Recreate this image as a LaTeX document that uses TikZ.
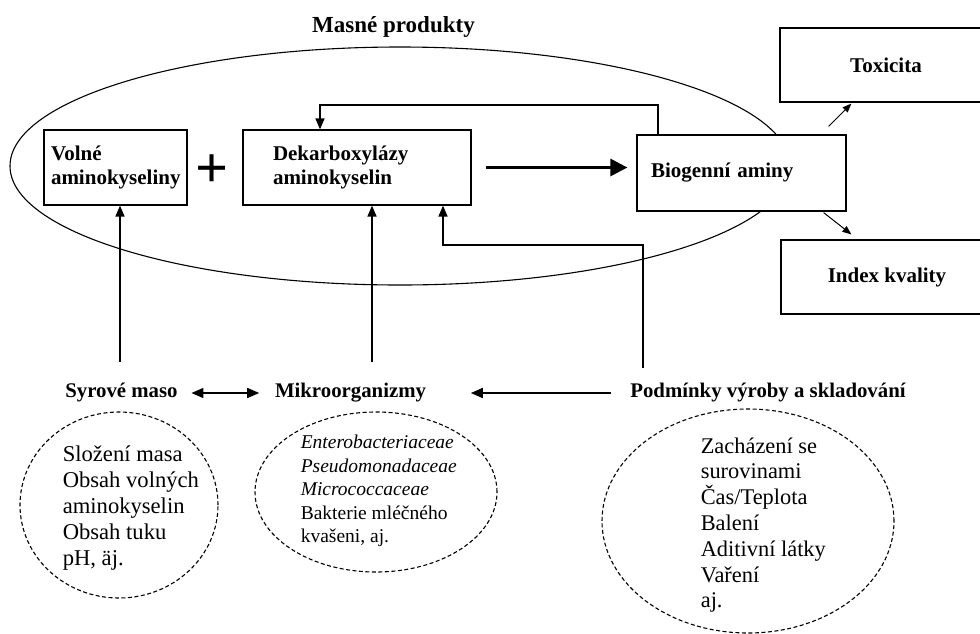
\documentclass[tikz,border=0pt]{standalone}
\usepackage{fontspec}
\setmainfont{Liberation Serif}
\usetikzlibrary{arrows.meta,shapes.geometric}

\begin{document}
\begin{tikzpicture}
	[x=1pt,y=-1pt,>={Triangle[length=11pt,width=9pt]},line width=1.6pt,
		box node/.style={rectangle,draw,line width=1.2pt,fill=white,minimum height=75pt,font=\bfseries\fontsize{21}{23.5}\selectfont},
		oval node/.style={ellipse,draw,dash pattern=on 4pt off 2.5pt,line width=1.1pt,inner sep=0pt,outer sep=0pt},
		head node/.style={font=\bfseries\fontsize{20.8}{24}\selectfont,inner sep=3pt},
		list node/.style={align=left,anchor=west,inner sep=0pt,font=\fontsize{22.6}{25.8}\selectfont}]

	\useasboundingbox (0,0) rectangle (980,633);
	\clip (0,0) rectangle (980,633);

	% meat products oval, boxes go on top of it
	\node[ellipse,draw,line width=1.1pt,inner sep=0pt,outer sep=0pt,minimum width=780pt,minimum height=238pt] (meat) at (400,166) {};
	\node[font=\bfseries\fontsize{23}{26}\selectfont] (title) at (393.5,27) {Masné produkty};

	\node[box node,minimum width=143pt,text width=129pt,inner xsep=7pt,align=left] (vol) at (115.5,167.5) {Volné\\aminokyseliny};
	\node[font=\bfseries\fontsize{58}{58}\selectfont,inner sep=0pt] (plus) at (212,171) {+};
	\node[box node,minimum width=228pt,text width=168pt,inner xsep=30pt,align=left] (dek) at (357,167.5) {Dekarboxylázy\\aminokyselin};
	\node[box node,minimum width=209pt,minimum height=76pt,text width=181pt,inner xsep=14pt,align=left] (bio) at (741.5,173) {Biogenní aminy};
	\node[box node,minimum width=212pt,minimum height=74pt] (tox) at (886,65) {Toxicita};
	\node[box node,minimum width=212pt,minimum height=74pt] (idx) at (887,277) {Index kvality};

	% factors
	\node[head node] (raw) at (121.5,393) {Syrové maso};
	\node[head node] (mik) at (350.5,393) {Mikroorganizmy};
	\node[head node] (pod) at (768,393) {Podmínky výroby a skladování};

	\node[oval node,minimum width=198pt,minimum height=186pt] (rawov) at (119,505) {};
	\node[list node] (rawls) at (62,508) {Složení masa\\Obsah volných\\aminokyselin\\Obsah tuku\\pH, äj.};
	\node[oval node,minimum width=242pt,minimum height=160pt] (mikov) at (376,492) {};
	\node[list node,font=\fontsize{19.5}{23.5}\selectfont] (mikls) at (300,491) {\textit{Enterobacteriaceae}\\\textit{Pseudomonadaceae}\\\textit{Micrococcaceae}\\Bakterie mléčného\\kvašeni, aj.};
	\node[oval node,minimum width=292pt,minimum height=224pt] (podov) at (748,521) {};
	\node[list node,font=\fontsize{22.4}{25.8}\selectfont] (podls) at (700,525) {Zacházení se\\surovinami\\Čas/Teplota\\Balení\\Aditivní látky\\Vaření\\aj.};

	\coordinate (rawft) at (120,362);
	\coordinate (mikft) at (372,362);
	\coordinate (podft) at (643,368);
	\coordinate (podcn) at (443,245);
	\coordinate (fbk) at (658,105);
	\coordinate (fbl) at (320,105);

	\draw[->] (rawft) -- (rawft |- vol.south);
	\draw[->] (mikft) -- (mikft |- dek.south);
	\draw[->] (podft) -- (podft |- podcn) -- (podcn) -- (podcn |- dek.south);
	\draw[->] (fbk |- bio.north) -- (fbk) -- (fbl) -- (fbl |- dek.north);
	\draw[-{Triangle[length=17pt,width=17pt]},line width=3pt,shorten <=14pt,shorten >=9pt] (dek.east) -- (dek.east -| bio.west);
	\draw[-{Triangle[length=9pt,width=7pt]},line width=1pt] ([xshift=-18pt,yshift=8pt]bio.north east) -- ([xshift=72pt,yshift=-1pt]tox.south west);
	\draw[-{Triangle[length=9pt,width=7pt]},line width=1pt] ([xshift=-23pt,yshift=-1pt]bio.south east) -- ([xshift=71pt,yshift=5pt]idx.north west);
	\draw[{Triangle[length=12pt,width=10pt]}-{Triangle[length=12pt,width=10pt]},shorten <=10pt,shorten >=12pt] (raw) -- (mik);
	\draw[-{Triangle[length=12pt,width=10pt]},shorten <=16pt,shorten >=41pt] (pod) -- (mik);
\end{tikzpicture}
\end{document}
